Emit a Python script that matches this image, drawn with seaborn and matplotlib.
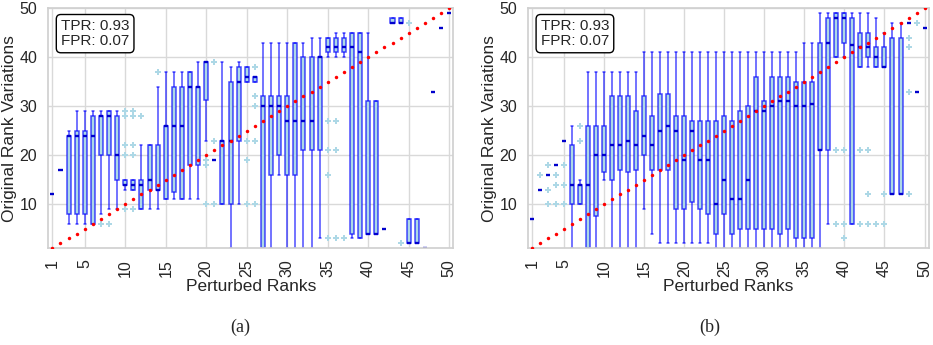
import numpy as np
import pandas as pd
import matplotlib
matplotlib.use("Agg")
import matplotlib.pyplot as plt
import seaborn as sns

ranks = list(range(1, 51))
tick_ranks = [1, 5, 10, 15, 20, 25, 30, 35, 40, 45, 50]
y_ticks = [10, 20, 30, 40, 50]
stats_text = "TPR: 0.93\nFPR: 0.07"
captions = ["(a)", "(b)"]

# Panel (a): whisker low, Q1, median, Q3, whisker high per perturbed rank
a_lo  = [12, 17, 6, 6, 6, 6, 8, 9, 9, 13, 13, 9, 9, 9, 11, 11, 11, 11, 11, 23,
         19, 10, 1, 10, 35, 35, 1, 1, 16, 1, 1, 1, 1, 3, 40, 40, 40, 3, 3, 4,
         4, 5, 47, 47, 2, 2, 1, 33, 46, 49]
a_q1  = [12, 17, 8, 8, 8, 6, 20, 20, 15, 14, 13, 9, 13, 13, 11, 12.5, 11, 18, 18, 31.3,
         19, 10, 10, 23, 35, 35, 1, 16, 20, 16, 16, 21, 21, 21, 41, 41, 41, 4, 3, 4,
         4, 5, 47, 47, 2, 2, 1, 33, 46, 49]
a_med = [12, 17, 24, 24, 24, 24, 28, 28, 20, 14, 14, 14, 15, 13, 26, 26, 26, 34, 34, 39,
         19, 23, 23, 35, 36, 36, 30, 30, 30, 27, 27, 27, 27, 40, 42, 42, 42, 42, 41, 4,
         4, 5, 47, 47, 2, 2, 1, 33, 46, 49]
a_q3  = [12, 17, 24, 25, 25, 28, 28, 29, 28, 15, 15, 15, 22, 22, 26, 34, 34, 37, 34, 39,
         19, 23, 35, 38, 38, 36, 32, 32, 32, 32, 43, 40, 40, 40, 44, 44, 44, 45, 45, 31,
         31, 5, 48, 48, 7, 7, 1, 33, 46, 49]
a_hi  = [12, 17, 25, 29, 29, 29, 29, 29, 29, 15, 15, 22, 22, 34, 37, 37, 37, 37, 39, 39,
         19, 39, 38, 39, 38, 36, 43, 43, 43, 43, 43, 43, 44, 44, 44, 45, 45, 45, 45, 45,
         31, 5, 48, 48, 7, 7, 1, 33, 46, 49]
a_out_rank = [7, 8, 10, 10, 10, 10, 10, 11, 11, 11, 11, 11, 12, 14, 20, 20, 20,
              21, 21, 21, 25, 25, 25, 26, 26, 26, 26, 26, 35, 35, 35, 35,
              36, 36, 36, 37, 44, 45]
a_out_val  = [6, 6, 29, 28, 22, 20, 9, 29, 28, 22, 20, 9, 28, 37, 19, 18, 10,
              39, 23, 10, 23, 19, 10, 38, 32, 30, 23, 10, 27, 21, 16, 3,
              27, 21, 3, 3, 2, 47]

# Panel (b)
b_lo  = [7, 13, 16, 18, 23, 1, 10, 1, 1, 15, 1, 1, 1, 1, 9, 4, 2, 2, 2, 2,
         2, 2, 2, 1, 1, 1, 1, 1, 1, 1, 1, 1, 1, 1, 1, 1, 1, 6, 40, 40,
         6, 38, 38, 38, 38, 12, 12, 47, 33, 46]
b_q1  = [7, 13, 16, 18, 23, 10, 10, 1, 7.5, 16.5, 15, 17, 16.5, 17, 20, 17, 17, 17, 9, 9,
         10.5, 9, 8, 4, 8, 4, 5, 5, 5, 5, 5, 4, 5, 3, 3, 3, 21, 21, 40, 43,
         6, 38, 40, 38, 38, 12, 12, 47, 33, 46]
b_med = [7, 13, 16, 18, 23, 14, 14, 14, 20, 20, 22, 22, 23, 22, 24, 22, 25, 26, 25, 19,
         25, 19, 19, 10, 15, 11, 11, 15, 29, 29, 30, 31, 31, 30, 30, 30.5, 21, 43, 48, 48,
         42.5, 42, 42, 40, 38, 12, 12, 47, 33, 46]
b_q3  = [7, 13, 16, 18, 23, 22, 14, 26, 26, 26, 32, 32, 32, 29, 32, 28, 32.5, 32.5, 28, 28,
         27, 27, 27, 27, 28, 27, 29, 30, 36, 31, 36, 36, 36, 35, 35, 35, 43, 48, 49, 49,
         48, 45, 45, 42, 42, 44, 44, 47, 33, 46]
b_hi  = [7, 13, 16, 18, 23, 26, 15, 37, 37, 37, 37, 37, 37, 37, 41, 41, 41, 41, 41, 41,
         41, 41, 41, 41, 41, 41, 41, 41, 41, 41, 41, 41, 41, 41, 43, 43, 49, 49, 49, 49,
         49, 49, 49, 48, 45, 47, 47, 47, 33, 46]
b_out_rank = [2, 3, 3, 3, 4, 4, 4, 5, 5, 5, 7, 7, 39, 39, 40, 40, 40,
              42, 42, 43, 43, 43, 44, 45, 45, 48, 48, 48, 48, 49]
b_out_val  = [16, 18, 13, 10, 16, 14, 10, 18, 14, 10, 26, 23, 21, 6, 21, 6, 3,
              21, 6, 21, 12, 6, 6, 12, 6, 44, 42, 33, 12, 47]


def long_frame(lo, q1, med, q3, hi):
    rows = []
    for r, a, b, c, d, e in zip(ranks, lo, q1, med, q3, hi):
        for v in (a, b, b, c, d, d, e):
            rows.append((r, v))
    return pd.DataFrame(rows, columns=["rank", "value"])


sns.set_theme(style="whitegrid")
plt.rcParams["font.family"] = ["Liberation Sans", "DejaVu Sans"]

fig = plt.figure(figsize=(9.33, 3.45), dpi=100)
ax_a = fig.add_axes([0.0518, 0.2803, 0.434, 0.6957])
ax_b = fig.add_axes([0.5662, 0.2803, 0.4290, 0.6957])

panels = [
    (ax_a, (a_lo, a_q1, a_med, a_q3, a_hi), a_out_rank, a_out_val),
    (ax_b, (b_lo, b_q1, b_med, b_q3, b_hi), b_out_rank, b_out_val),
]

edge = (0.0, 0.0, 1.0, 0.7)
for ax, st, orank, oval in panels:
    df = long_frame(*st)
    sns.boxplot(data=df, x="rank", y="value", order=ranks, ax=ax,
                whis=(0, 100), showfliers=False, width=0.5, saturation=1,
                color="lightblue", linewidth=1.1,
                boxprops=dict(facecolor="lightblue", edgecolor=edge),
                whiskerprops=dict(color=edge),
                capprops=dict(color=edge),
                medianprops=dict(color="#0000cc", linewidth=1.7))
    odf = pd.DataFrame({"rank": orank, "value": oval})
    sns.stripplot(data=odf, x="rank", y="value", order=ranks, ax=ax,
                  jitter=False, marker="P", color="lightblue", size=3.8,
                  linewidth=0, zorder=4)
    sns.stripplot(x=ranks, y=ranks, order=ranks, ax=ax, jitter=False,
                  color="red", size=2.5, linewidth=0, zorder=6)

    ax.set_xticks([r - 1 for r in tick_ranks])
    ax.set_xticklabels([str(r) for r in tick_ranks], rotation=90, fontsize=11.5)
    ax.set_yticks(y_ticks)
    ax.set_yticklabels([str(v) for v in y_ticks], fontsize=11.5)
    ax.set_xlim(-0.5, 49.5)
    ax.set_ylim(1, 50)
    ax.xaxis.grid(True, color="#d9d9d9", linewidth=1.0)
    ax.yaxis.grid(True, color="#d9d9d9", linewidth=1.0)
    ax.set_axisbelow(True)
    for s in ax.spines.values():
        s.set_color("#d0d0d0")
    ax.tick_params(axis="both", pad=2, colors="#262626")
    ax.set_xlabel("Perturbed Ranks", fontsize=12.5, labelpad=1)
    ax.set_ylabel("Original Rank Variations", fontsize=12.5, labelpad=1.5)
    ax.text(0.031, 0.955, stats_text, transform=ax.transAxes, va="top",
            ha="left", fontsize=11, zorder=10, linespacing=1.1,
            bbox=dict(boxstyle="round,pad=0.3", facecolor="white",
                      edgecolor="black", linewidth=1.0))

fig.text(240 / 933, 1 - 327 / 345, captions[0], ha="center", va="center",
         fontsize=13, family=["Liberation Serif", "DejaVu Serif"])
fig.text(710 / 933, 1 - 327 / 345, captions[1], ha="center", va="center",
         fontsize=13, family=["Liberation Serif", "DejaVu Serif"])

fig.savefig("out.png", dpi=100)
